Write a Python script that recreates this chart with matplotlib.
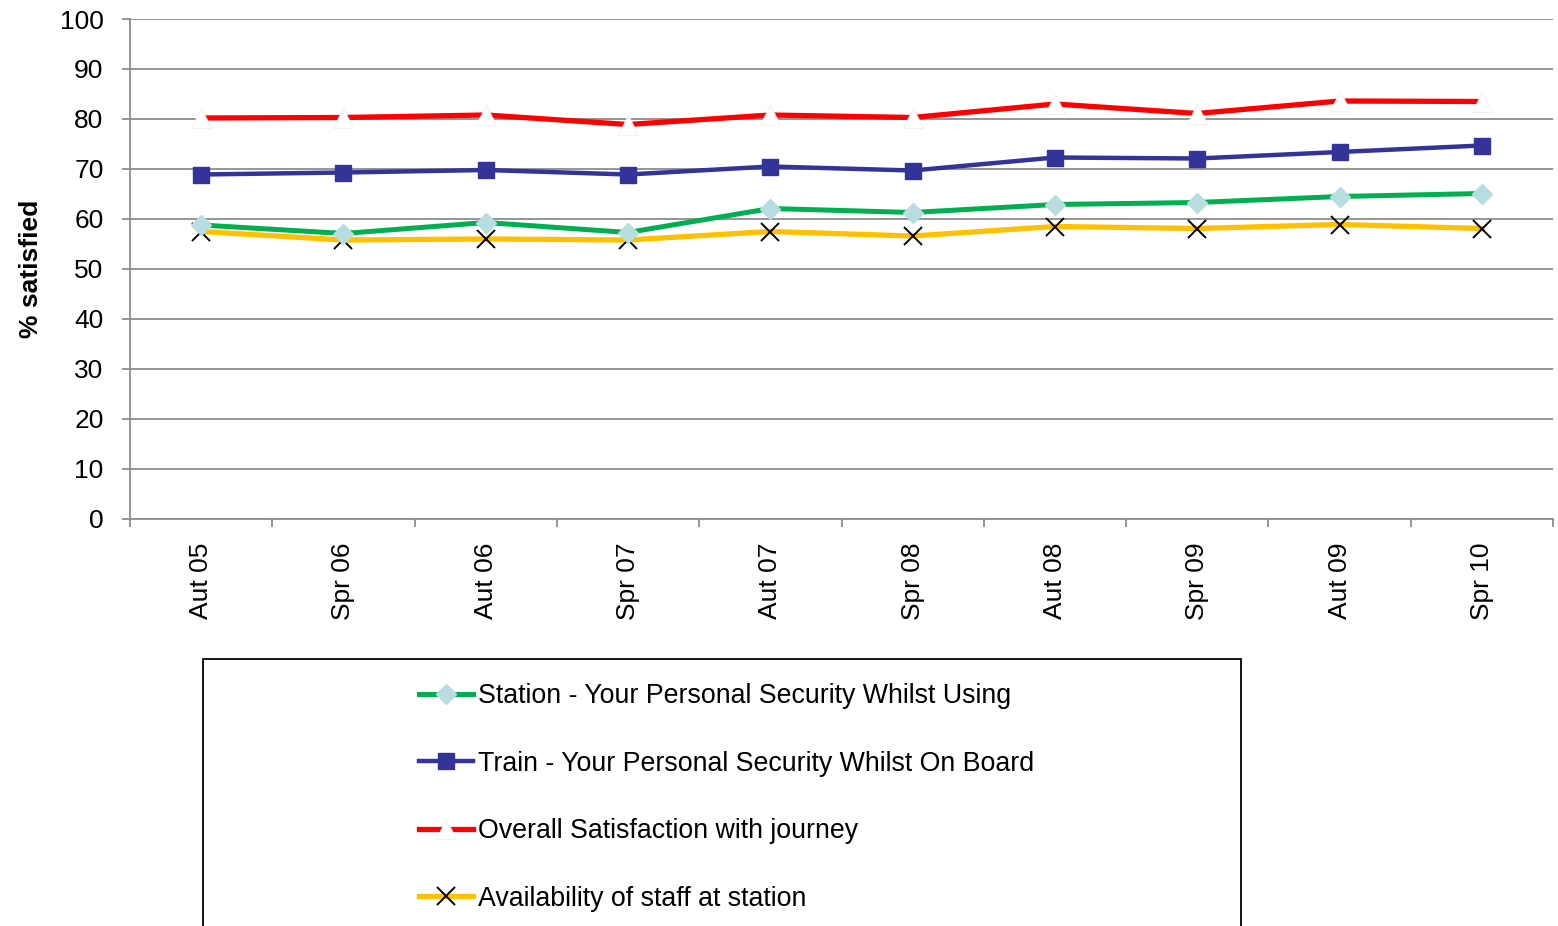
import numpy as np
import matplotlib.pyplot as plt
from matplotlib.patches import Rectangle

plt.rcParams["font.family"] = ["Liberation Sans", "DejaVu Sans"]

periods = ["Aut 05", "Spr 06", "Aut 06", "Spr 07", "Aut 07",
           "Spr 08", "Aut 08", "Spr 09", "Aut 09", "Spr 10"]
station = [58.8, 57.1, 59.3, 57.3, 62.1, 61.3, 62.9, 63.3, 64.5, 65.1]
train = [68.9, 69.3, 69.8, 68.9, 70.5, 69.7, 72.3, 72.1, 73.4, 74.7]
overall = [80.2, 80.3, 80.8, 78.9, 80.8, 80.3, 83.0, 81.1, 83.6, 83.5]
staff = [57.5, 55.8, 56.0, 55.8, 57.5, 56.6, 58.5, 58.1, 58.9, 58.1]

W, H = 1558, 926
fig = plt.figure(figsize=(W / 100, H / 100), dpi=100)
ax = fig.add_axes([130 / W, 1 - 519 / H, (1553 - 130) / W, (519 - 19) / H])

x = np.arange(len(periods))
grid_c = "#8c8c8c"

l1, = ax.plot(x, station, color="#00b050", lw=3.6, marker="D", ms=10.5,
              mfc="#b7dde0", mec="#b7dde0", label="Station - Your Personal Security Whilst Using", zorder=3)
l2, = ax.plot(x, train, color="#333399", lw=3.2, marker="s", ms=11.5,
              mfc="#333399", mec="#333399", label="Train - Your Personal Security Whilst On Board", zorder=4)
l3, = ax.plot(x, overall, color="#ff0000", lw=3.8, marker="^", ms=14,
              mfc="white", mec="#f2f2f2", mew=0.8, label="Overall Satisfaction with journey", zorder=5)
l4, = ax.plot(x, staff, color="#ffc000", lw=3.8, marker="x", ms=13,
              mfc="black", mec="black", mew=1.4, label="Availability of staff at station", zorder=2)

ax.set_ylim(0, 100)
ax.set_yticks(range(0, 101, 10))
ax.set_xlim(-0.5, len(periods) - 0.5)
ax.set_xticks(x)
ax.set_xticklabels(periods, rotation=90, fontsize=19)
ax.set_xticks(np.arange(-0.5, len(periods), 1), minor=True)
ax.tick_params(axis="x", which="major", length=0, pad=17)
ax.tick_params(axis="x", which="minor", length=6, color=grid_c, width=1.3)
ax.tick_params(axis="y", length=6, color=grid_c, width=1.3, labelsize=19, pad=13)
ax.grid(axis="y", color=grid_c, lw=1.3, zorder=0)
ax.set_axisbelow(True)
for sp in ("top", "right"):
    ax.spines[sp].set_visible(False)
for sp in ("left", "bottom"):
    ax.spines[sp].set_color(grid_c)
    ax.spines[sp].set_linewidth(1.3)

ax.set_ylabel("% satisfied", fontsize=19, fontweight="bold", labelpad=12)

# legend box (runs off the bottom of the figure)
fig.patches.append(Rectangle((203 / W, -0.05), (1241 - 203) / W, 1 - 659 / H + 0.05,
                             transform=fig.transFigure, fill=False, ec="black", lw=1.3))
fig.legend(handles=[l1, l2, l3, l4], loc="upper left",
           bbox_to_anchor=(395 / W, 1 - 659 / H), frameon=False, fontsize=19.3,
           handlelength=2.0, handletextpad=0.2, labelspacing=1.55)

fig.savefig("out.png", dpi=100, facecolor="white")
